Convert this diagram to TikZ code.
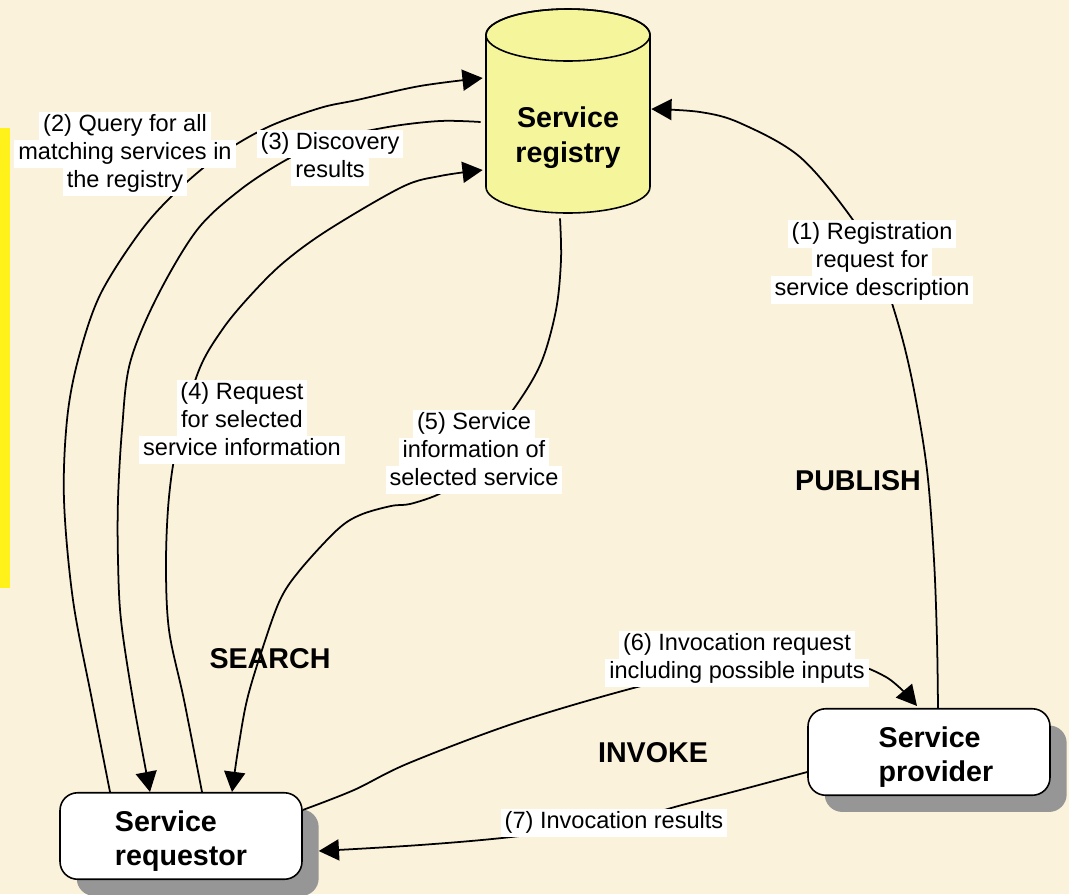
\documentclass[tikz,border=0pt]{standalone}
\usepackage{fontspec}
\setmainfont{Liberation Sans}
\usetikzlibrary{arrows.meta,shadows,calc}
\definecolor{bgc}{HTML}{FBF2DB}
\definecolor{cylc}{HTML}{F5F59C}
\definecolor{barc}{HTML}{FFF21A}
\definecolor{shc}{HTML}{969696}
\newcommand\wl[1]{{\setlength{\fboxsep}{0pt}\colorbox{white}{\strut\,#1\,}}}
\newcommand\lblfont{\fontsize{13.4pt}{15.9pt}\selectfont}
\newcommand\kwfont{\fontsize{16.3pt}{19.8pt}\selectfont\bfseries}
\begin{document}
\begin{tikzpicture}[x=0.02cm,y=-0.02cm,
  lbl/.style={font=\lblfont, align=center, inner sep=0pt},
  kw/.style={font=\kwfont, inner sep=0pt},
  box/.style={draw, line width=0.9pt, fill=white, rounded corners=10pt,
    minimum width=4.84cm, minimum height=1.73cm, inner sep=0pt,
    drop shadow={shadow xshift=9.5pt, shadow yshift=-9.5pt, fill=shc, opacity=1}},
  boxtext/.style={font=\kwfont, align=left, inner sep=0pt},
  arr/.style={line width=1pt, -{Triangle[length=11.5pt,width=12pt]}},
  cyl/.style={draw, line width=0.9pt, fill=cylc}]
\useasboundingbox (0,0) rectangle (1069,894);
\fill[bgc] (0,0) rectangle (1069,894);
\fill[barc] (0,128) rectangle (10,588);

% registry cylinder
\filldraw[cyl] (486,35) -- (486,187)
  arc[start angle=180, end angle=360, x radius=1.64cm, y radius=0.52cm]
  -- (650,35)
  arc[start angle=0, end angle=180, x radius=1.64cm, y radius=0.52cm] -- cycle;
\draw[line width=0.9pt] (568,35) ellipse [x radius=1.64cm, y radius=0.52cm];
\node[font=\kwfont, align=center, minimum width=3.28cm, minimum height=3cm,
  inner sep=0pt] (reg) at (568,138) {\raisebox{-3pt}{Service}\\\raisebox{-3pt}{registry}};

% boxes
\node[box] (req) at (181,836) {};
\node[boxtext] (reqt) at ($(req.center)+(0,5)$) {Service\\requestor};
\node[box] (prov) at (929,752) {};
\node[boxtext] (provt) at ($(prov.center)+(7,5)$) {Service\\provider};

% connector end points
\coordinate (p1s) at ($(prov.north)+(9,0)$);
\coordinate (p1e) at ($(reg.east)+(1,-29)$);
\coordinate (p2s) at ($(req.north)+(-71,0)$);
\coordinate (p2e) at ($(reg.west)+(-3,-60)$);
\coordinate (p3s) at ($(reg.west)+(-5,-16)$);
\coordinate (p3e) at ($(req.north)+(-31,0)$);
\coordinate (p4s) at ($(req.north)+(21,0)$);
\coordinate (p4e) at ($(reg.west)+(-3,32)$);
\coordinate (p5s) at ($(reg.south)+(-8,5)$);
\coordinate (p5e) at ($(req.north)+(51,0)$);
\coordinate (p6s) at ($(req.north east)+(0,18)$);
\coordinate (p6e) at ($(prov.north)+(-12,-2)$);
\coordinate (p7s) at ($(prov.west)+(0,20)$);
\coordinate (p7e) at ($(req.east)+(16,15)$);

% connectors
\draw[arr] plot[smooth, tension=0.55] coordinates {(p1s) (937,640) (934,560)
  (927,470) (914,390) (900,330) (880,270) (853,220) (800,157) (740,123)
  (700,112) (p1e)};
\draw[arr] plot[smooth, tension=0.55] coordinates {(p2s) (92,700) (73,600)
  (64,500) (67,420) (78,360) (100,295) (140,232) (176,192) (220,155)
  (268,127) (320,108) (357,100) (420,86) (p2e)};
\draw[arr] plot[smooth, tension=0.55] coordinates {(p3s) (440,121) (388,127)
  (330,140) (286,160) (240,190) (197,230) (157,297) (130,363) (122,430)
  (118,500) (118,560) (121,620) (133,700) (p3e)};
\draw[arr] plot[smooth, tension=0.55] coordinates {(p4s) (184,700) (169,630)
  (166,563) (169,497) (178,440) (199,370) (222,330) (249,297) (283,263)
  (328,230) (402,187) (440,176) (p4e)};
\draw[arr] plot[smooth, tension=0.55] coordinates {(p5s) (561,260) (556,310)
  (541,363) (515,407) (480,450) (450,485) (437,495) (410,504) (391,506)
  (360,515) (337,530) (300,570) (280,600) (262,650) (247,700) (238,750)
  (p5e)};
\draw[arr] plot[smooth, tension=0.55] coordinates {(p6s) (354,790) (409,763)
  (518,722) (641,686) (737,665) (838,662) (886,677) (p6e)};
\draw[arr] plot[smooth, tension=0.55] coordinates {(p7s) (740,790) (682,805)
  (614,823) (511,837) (420,845) (p7e)};

% labels
\node[lbl] (l1) at (872,262) {\wl{(1) Registration}\\\wl{request for}\\\wl{service description}};
\node[lbl] (l2) at (125,154) {\wl{(2) Query for all}\\\wl{matching services in}\\\wl{the registry}};
\node[lbl] (l3) at (330,158) {\wl{(3) Discovery}\\\wl{results}};
\node[lbl] (l4) at (242,422) {\wl{(4) Request}\\\wl{for selected}\\\wl{service information}};
\node[lbl] (l5) at (474,452) {\wl{(5) Service}\\\wl{information of}\\\wl{selected service}};
\node[lbl] (l6) at (737,659) {\wl{(6) Invocation request}\\\wl{including possible inputs}};
\node[lbl] (l7) at (614,823) {\wl{(7) Invocation results}};

\node[kw] (search) at (270,659) {SEARCH};
\node[kw] (invoke) at (653,753) {INVOKE};
\node[kw] (publish) at (858,481) {PUBLISH};
\end{tikzpicture}
\end{document}
